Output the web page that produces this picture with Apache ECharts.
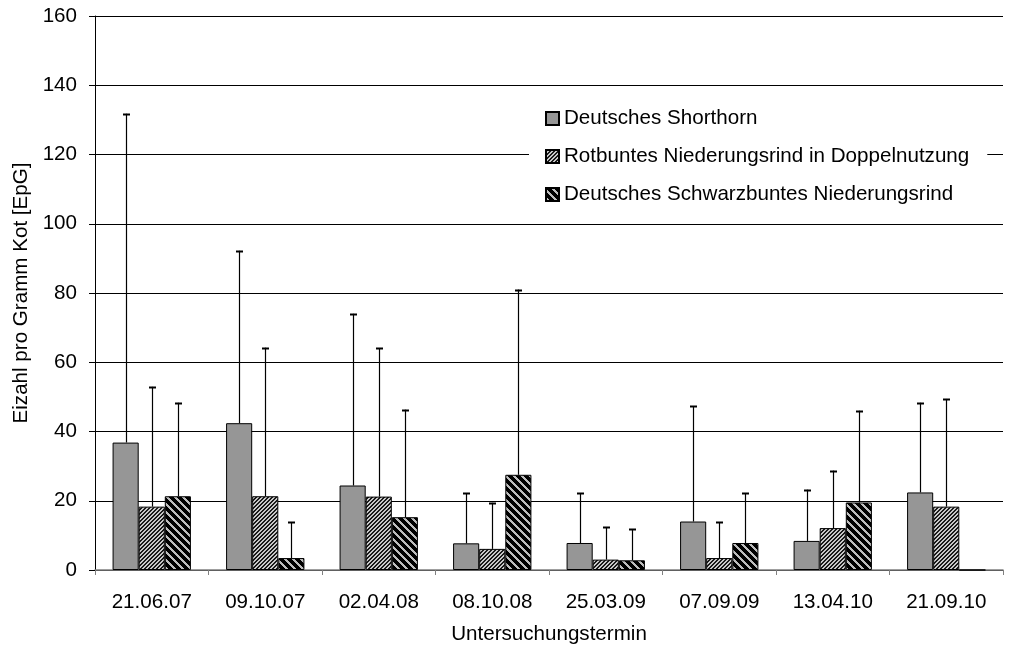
<!DOCTYPE html>
<html><head><meta charset="utf-8">
<script src="https://cdn.jsdelivr.net/npm/echarts@6/dist/echarts.min.js"></script>
<style>html,body{margin:0;padding:0;background:#fff}#c{width:1014px;height:650px}</style>
</head><body><div id="c"></div>
<script>
const categories = ['21.06.07','09.10.07','02.04.08','08.10.08','25.03.09','07.09.09','13.04.10','21.09.10'];
const seriesNames = ['Deutsches Shorthorn','Rotbuntes Niederungsrind in Doppelnutzung','Deutsches Schwarzbuntes Niederungsrind'];
const shorthorn = [36.8, 42.4, 24.4, 7.7, 7.8, 14.0, 8.4, 22.4];
const rotbunt = [18.3, 21.3, 21.2, 6.1, 3.0, 3.45, 12.1, 18.3];
const schwarz = [21.3, 3.45, 15.25, 27.5, 2.8, 7.8, 19.5, 0];
const shorthornUpper = [131.8, 92.2, 74.0, 22.2, 22.2, 47.3, 23.2, 48.3];
const rotbuntUpper = [52.9, 64.2, 64.1, 19.4, 12.4, 13.8, 28.7, 49.4];
const schwarzUpper = [48.3, 13.8, 46.3, 81.0, 11.8, 22.2, 46.0, null];
const yTicks = [0, 20, 40, 60, 80, 100, 120, 140, 160];

function stripe(period, dark, dir, darkCol, lightCol) {
  const c = document.createElement('canvas');
  c.width = period; c.height = period;
  const ctx = c.getContext('2d');
  for (let x = 0; x < period; x++) for (let y = 0; y < period; y++) {
    const k = dir > 0 ? ((x + y) % period) : (((x - y) % period) + period) % period;
    ctx.fillStyle = k < dark ? darkCol : lightCol;
    ctx.fillRect(x, y, 1, 1);
  }
  return { image: c, repeat: 'repeat' };
}
const patRot = stripe(4, 2, 1, '#1a1a1a', '#c8c8c8');
const patSchwarz = stripe(8, 5, -1, '#000000', '#bdbdbd');

const values = [shorthorn, rotbunt, schwarz];
const uppers = [shorthornUpper, rotbuntUpper, schwarzUpper];
const fills = ['#969696', patRot, patSchwarz];
const gapRatio = 0.31;
const FONT = 'Liberation Sans, Arial, sans-serif';
const FS = 20.6;

const series = [];
values.forEach((v, i) => {
  series.push({
    name: seriesNames[i], type: 'bar', data: v,
    barGap: '0%', barCategoryGap: (gapRatio * 100) + '%',
    itemStyle: { color: fills[i], borderColor: '#000', borderWidth: 1 },
    emphasis: { disabled: true }
  });
});
uppers.forEach((u, i) => {
  series.push({
    type: 'custom', silent: true, z: 5,
    data: u.map((up, j) => [j, values[i][j], up]),
    renderItem: function (params, api) {
      const up = api.value(2);
      if (up === null || isNaN(up)) return;
      const base = api.coord([api.value(0), api.value(1)]);
      const top = api.coord([api.value(0), up]);
      const band = api.size([1, 0])[0];
      const bw = band * (1 - gapRatio) / 3;
      const x = Math.round(base[0] + (i - 1) * bw) + 0.5;
      return { type: 'group', children: [
        { type: 'line', shape: { x1: x, y1: base[1], x2: x, y2: top[1] }, style: { stroke: '#000', lineWidth: 1.2 } },
        { type: 'line', shape: { x1: x - 3.5, y1: Math.round(top[1]) + 0.5, x2: x + 3.5, y2: Math.round(top[1]) + 0.5 }, style: { stroke: '#000', lineWidth: 2 } }
      ]};
    }
  });
});

const chart = echarts.init(document.getElementById('c'), null, { renderer: 'canvas' });
chart.setOption({
  animation: false,
  textStyle: { fontFamily: FONT },
  grid: { left: 95, right: 11, top: 16, bottom: 78, containLabel: false },
  legend: {
    data: seriesNames.map(n => ({ name: n, icon: 'rect' })),
    orient: 'vertical', left: 529, top: 102,
    itemWidth: 13, itemHeight: 13, itemGap: 17,
    backgroundColor: '#fff', padding: [6, 18, 6, 16],
    textStyle: { fontSize: FS, color: '#000', fontFamily: FONT },
    selectedMode: false
  },
  xAxis: {
    type: 'category', data: categories,
    name: 'Untersuchungstermin', nameLocation: 'middle', nameGap: 54,
    nameTextStyle: { fontSize: FS, color: '#000', fontFamily: FONT },
    axisLine: { lineStyle: { color: '#808080', width: 1.5 } },
    axisTick: { show: true, length: 5, lineStyle: { color: '#808080' } },
    axisLabel: { fontSize: FS, color: '#000', margin: 22, fontFamily: FONT }
  },
  yAxis: {
    type: 'value', min: 0, max: 160, interval: 20,
    name: 'Eizahl pro Gramm Kot [EpG]', nameLocation: 'middle', nameGap: 61,
    nameTextStyle: { fontSize: FS, color: '#000', fontFamily: FONT },
    axisLine: { show: true, lineStyle: { color: '#000' } },
    axisTick: { show: true, length: 6, lineStyle: { color: '#000' } },
    axisLabel: { fontSize: FS, color: '#000', margin: 18, fontFamily: FONT, formatter: v => yTicks.includes(v) ? String(v) : '' },
    splitLine: { show: true, lineStyle: { color: '#000', width: 1 } }
  },
  series: series
});
</script></body></html>
